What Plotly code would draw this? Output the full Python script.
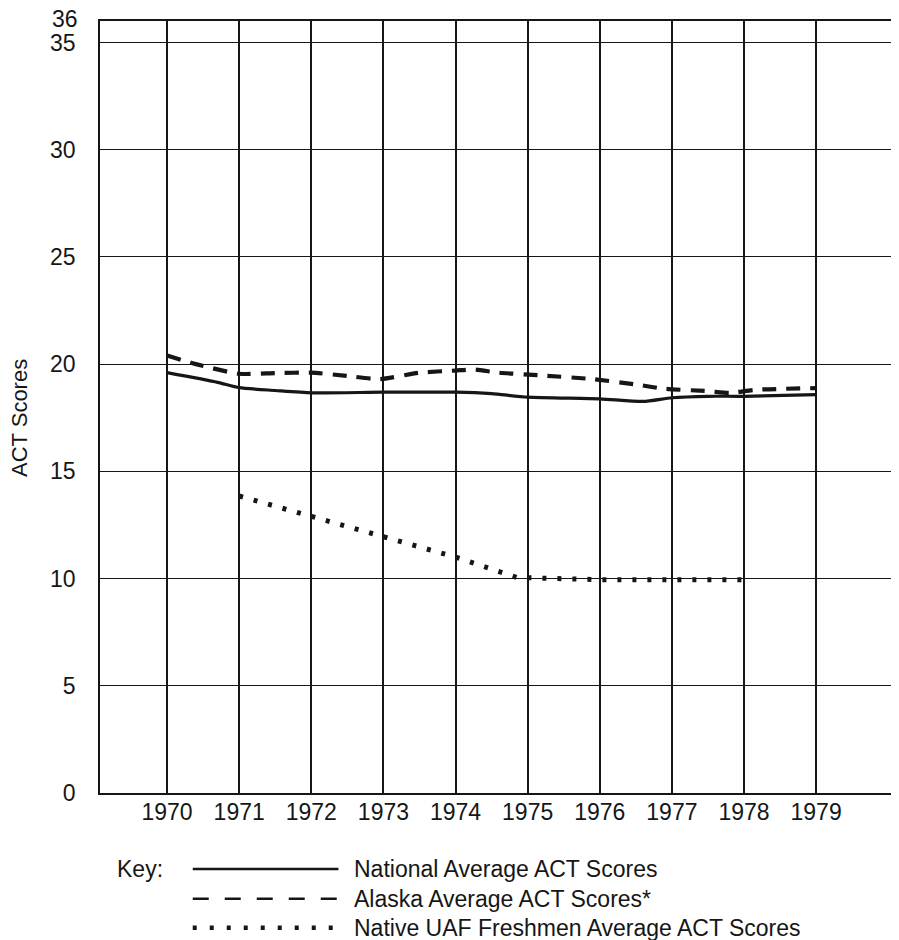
import plotly.graph_objects as go

# ---- data ----
national_years = [1970, 1970.7, 1971, 1971.5, 1972, 1973, 1974, 1974.5, 1975, 1976, 1976.6, 1977, 1977.5, 1978, 1979]
national_scores = [19.6, 19.15, 18.9, 18.77, 18.66, 18.69, 18.69, 18.62, 18.46, 18.38, 18.26, 18.43, 18.5, 18.5, 18.58]

alaska_years = [1970, 1970.4, 1971, 1971.5, 1972, 1972.5, 1972.95, 1973.5, 1974, 1974.25, 1974.6,
                1975.2, 1975.9, 1976.5, 1976.9, 1977.5, 1977.8, 1978.15, 1979]
alaska_scores = [20.4, 20.0, 19.55, 19.58, 19.6, 19.45, 19.3, 19.6, 19.7, 19.75, 19.6,
                 19.47, 19.3, 19.05, 18.85, 18.74, 18.66, 18.8, 18.88]

native_years = [1971, 1972, 1973, 1974, 1974.85, 1976, 1977, 1978]
native_scores = [13.85, 12.9, 11.95, 11.0, 10.05, 9.95, 9.95, 9.95]

x_ticks = [1970, 1971, 1972, 1973, 1974, 1975, 1976, 1977, 1978, 1979]
y_ticks = [0, 5, 10, 15, 20, 25, 30, 35]
y_top = 36

key_labels = ["National Average ACT Scores",
              "Alaska Average ACT Scores*",
              "Native UAF Freshmen Average ACT Scores"]

INK = "#161616"
FONT = "Liberation Sans, Arial, Helvetica, sans-serif"

fig = go.Figure()
fig.add_trace(go.Scatter(x=national_years, y=national_scores, mode="lines",
                         line=dict(color=INK, width=3.2, shape="spline", smoothing=0.6),
                         name=key_labels[0], showlegend=False))
fig.add_trace(go.Scatter(x=alaska_years, y=alaska_scores, mode="lines",
                         line=dict(color=INK, width=4.2, dash="14px,10px", shape="spline", smoothing=0.6),
                         name=key_labels[1], showlegend=False))
fig.add_trace(go.Scatter(x=native_years, y=native_scores, mode="lines",
                         line=dict(color=INK, width=5, dash="4px,11px"),
                         name=key_labels[2], showlegend=False))

# ---- key (legend drawn below the plot) ----
key_y = [-0.0983, -0.1371, -0.1746]
key_dash = ["solid", "16px,16px", "4px,13px"]
key_width = [2.5, 2.5, 4.5]
fig.add_annotation(x=0.0188, y=key_y[0], xref="paper", yref="paper", text="Key:",
                   showarrow=False, xanchor="left", yanchor="middle",
                   font=dict(size=23, color=INK, family=FONT))
for ky, lab, dsh, wd in zip(key_y, key_labels, key_dash, key_width):
    fig.add_shape(type="line", xref="paper", yref="paper",
                  x0=0.1168, x1=0.3003, y0=ky, y1=ky,
                  line=dict(color=INK, width=wd, dash=dsh))
    fig.add_annotation(x=0.3178, y=ky, xref="paper", yref="paper", text=lab,
                       showarrow=False, xanchor="left", yanchor="middle",
                       font=dict(size=23, color=INK, family=FONT))

# ---- top tick label (36) sits on the top border ----
fig.add_annotation(x=0, y=y_top, xref="paper", yref="y", text=str(y_top),
                   showarrow=False, xanchor="right", yanchor="middle",
                   xshift=-20, yshift=2,
                   font=dict(size=23, color=INK, family=FONT))

# ---- y axis title ----
fig.add_annotation(x=-0.1005, y=0.486, xref="paper", yref="paper", text="ACT Scores",
                   textangle=-90, showarrow=False, xanchor="center", yanchor="middle",
                   font=dict(size=22, color=INK, family=FONT))

fig.update_layout(
    width=899, height=940,
    margin=dict(l=92, r=11, t=12, b=155),
    paper_bgcolor="white", plot_bgcolor="white",
    font=dict(family=FONT, color=INK),
    showlegend=False,
    xaxis=dict(range=[1969.07, 1980.08], tickvals=x_ticks, ticktext=[str(v) for v in x_ticks],
               showgrid=True, gridcolor=INK, gridwidth=1.8, zeroline=False,
               showline=True, linecolor=INK, linewidth=1.8, mirror=True,
               ticks="", ticklabelstandoff=-3, tickfont=dict(size=23, color=INK, family=FONT)),
    yaxis=dict(range=[0, y_top], tickvals=y_ticks, ticktext=[str(v) for v in y_ticks],
               showgrid=True, gridcolor=INK, gridwidth=1.4, zeroline=False,
               showline=True, linecolor=INK, linewidth=1.8, mirror=True,
               ticks="", ticklabelstandoff=18, tickfont=dict(size=23, color=INK, family=FONT)),
)

fig.write_html("out.html")
